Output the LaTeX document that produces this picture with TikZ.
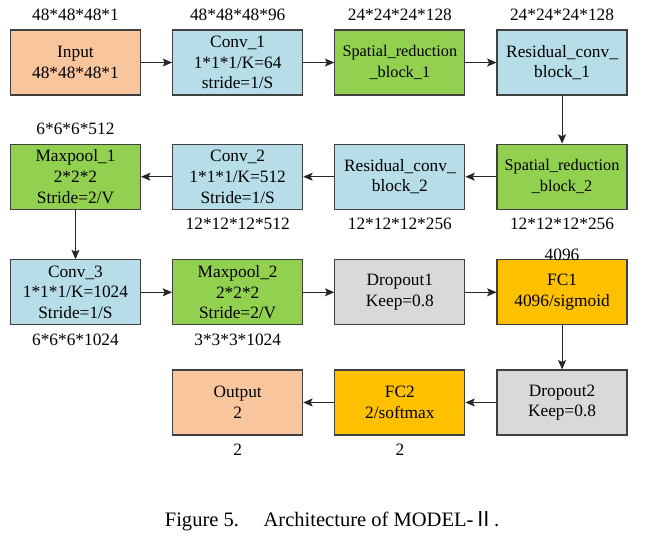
\documentclass[tikz,border=0pt]{standalone}
\usepackage{fontspec}
\setmainfont{Liberation Serif}
\newfontfamily\diagfont{Liberation Serif}
\newfontfamily\cjkfont{Noto Sans CJK SC}
\usetikzlibrary{arrows.meta, positioning}
\definecolor{io_fill}{HTML}{F9C59D}
\definecolor{conv_fill}{HTML}{B7DDE8}
\definecolor{pool_fill}{HTML}{92D050}
\definecolor{drop_fill}{HTML}{D9D9D9}
\definecolor{fc_fill}{HTML}{FFC000}
\definecolor{box_line}{HTML}{404040}
\tikzstyle{layer}=[rectangle, draw=box_line, line width=0.9pt, align=center,
   minimum width=97.5pt, minimum height=48.75pt, inner sep=1pt,
   font=\diagfont\fontsize{13}{15.5}\selectfont]
\tikzstyle{io_layer}=[layer, fill=io_fill]
\tikzstyle{conv_layer}=[layer, fill=conv_fill]
\tikzstyle{pool_layer}=[layer, fill=pool_fill]
\tikzstyle{drop_layer}=[layer, fill=drop_fill]
\tikzstyle{fc_layer}=[layer, fill=fc_fill]
\tikzstyle{small_text}=[font=\diagfont\fontsize{12.2}{15.5}\selectfont]
\tikzstyle{shape_label}=[inner sep=0, font=\diagfont\fontsize{13}{15.5}\selectfont]
\tikzstyle{flow}=[-{Stealth[length=7pt, width=6pt, inset=1.5pt]}, line width=0.7pt, draw=black!85]

\begin{document}
\begin{tikzpicture}[node distance=36pt and 23.25pt]

\useasboundingbox (0,0) rectangle (489.75pt,-407.25pt);

% first row
\node [io_layer]   (input)     at (56.6pt,-46.9pt)       {Input\\48*48*48*1};
\node [conv_layer] (conv_1)    [right=of input]          {Conv\_1\\1*1*1/K=64\\stride=1/S};
\node [pool_layer, small_text] (spatial_1) [right=of conv_1] {Spatial\_reduction\\\_block\_1};
\node [conv_layer] (residual_1) [right=of spatial_1]     {Residual\_conv\_\\block\_1};

% second row, right to left
\node [pool_layer, small_text] (spatial_2) [below=of residual_1] {Spatial\_reduction\\\_block\_2};
\node [conv_layer] (residual_2) [left=of spatial_2]      {Residual\_conv\_\\block\_2};
\node [conv_layer] (conv_2)    [left=of residual_2]      {Conv\_2\\1*1*1/K=512\\Stride=1/S};
\node [pool_layer] (maxpool_1) [left=of conv_2]          {Maxpool\_1\\2*2*2\\Stride=2/V};

% third row
\node [conv_layer] (conv_3)    [below=37pt of maxpool_1] {Conv\_3\\1*1*1/K=1024\\Stride=1/S};
\node [pool_layer] (maxpool_2) [right=of conv_3]         {Maxpool\_2\\2*2*2\\Stride=2/V};
\node [drop_layer] (dropout_1) [right=of maxpool_2]      {Dropout1\\Keep=0.8};
\node [fc_layer]   (fc_1)      [right=of dropout_1]      {FC1\\4096/sigmoid};

% fourth row, right to left
\node [drop_layer] (dropout_2) [below=33pt of fc_1]      {Dropout2\\Keep=0.8};
\node [fc_layer]   (fc_2)      [left=of dropout_2]       {FC2\\2/softmax};
\node [io_layer]   (output)    [left=of fc_2]            {Output\\2};

% tensor sizes
\node [shape_label] (input_size)     [above=6pt of input]      {48*48*48*1};
\node [shape_label] (conv_1_size)    [above=6pt of conv_1]     {48*48*48*96};
\node [shape_label] (spatial_1_size) [above=6pt of spatial_1]  {24*24*24*128};
\node [shape_label] (residual_1_size) [above=6pt of residual_1] {24*24*24*128};
\node [shape_label] (maxpool_1_size) [above=6.5pt of maxpool_1] {6*6*6*512};
\node [shape_label] (conv_2_size)    [below=6pt of conv_2]     {12*12*12*512};
\node [shape_label] (residual_2_size) [below=6pt of residual_2] {12*12*12*256};
\node [shape_label] (spatial_2_size) [below=6pt of spatial_2]  {12*12*12*256};
\node [shape_label] (conv_3_size)    [below=6.5pt of conv_3]   {6*6*6*1024};
\node [shape_label] (maxpool_2_size) [below=6.5pt of maxpool_2] {3*3*3*1024};
\node [shape_label] (fc_1_size)      [above=-1pt of fc_1]      {4096};
\node [shape_label] (output_size)    [below=6pt of output]     {2};
\node [shape_label] (fc_2_size)      [below=6pt of fc_2]       {2};

% data flow
\draw[flow] (input) -- (conv_1);
\draw[flow] (conv_1) -- (spatial_1);
\draw[flow] (spatial_1) -- (residual_1);
\draw[flow] (residual_1) -- (spatial_2);
\draw[flow] (spatial_2) -- (residual_2);
\draw[flow] (residual_2) -- (conv_2);
\draw[flow] (conv_2) -- (maxpool_1);
\draw[flow] (maxpool_1) -- (conv_3);
\draw[flow] (conv_3) -- (maxpool_2);
\draw[flow] (maxpool_2) -- (dropout_1);
\draw[flow] (dropout_1) -- (fc_1);
\draw[flow] (fc_1) -- (dropout_2);
\draw[flow] (dropout_2) -- (fc_2);
\draw[flow] (fc_2) -- (output);

% caption
\node [inner sep=0, font=\diagfont\fontsize{15.4}{18}\selectfont] (caption) at (249pt,-390.75pt)
    {Figure 5.\hspace{1.2em}Architecture of MODEL-{\cjkfont Ⅱ}.};

\end{tikzpicture}
\end{document}
